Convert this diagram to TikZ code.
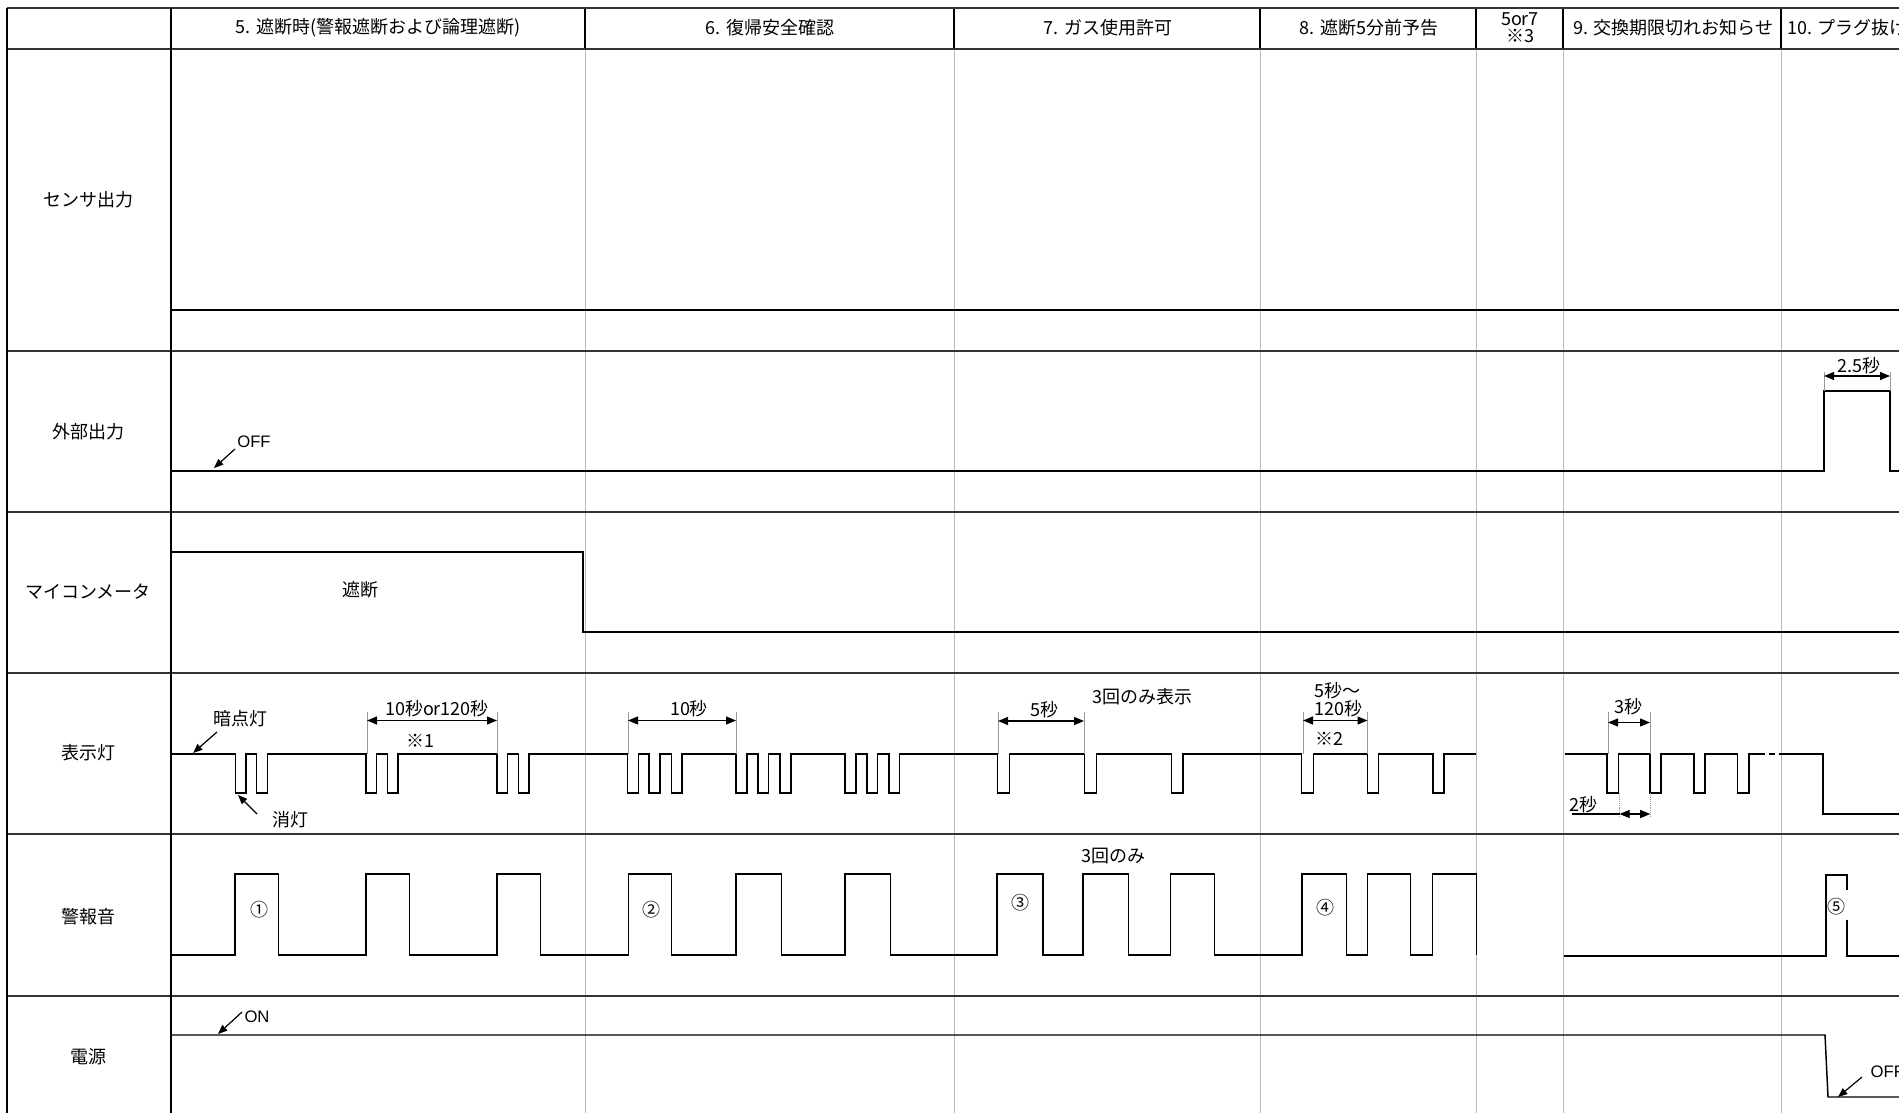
\documentclass[tikz,border=0pt]{standalone}
\usepackage{fontspec}
\setmainfont{Noto Sans CJK JP}
\newfontfamily\onofffont{Liberation Sans}
\usetikzlibrary{arrows.meta}

\tikzset{
  rowline/.style={line width=1.5pt, draw=black!80},
  colline/.style={line width=1pt, draw=black},
  gridline/.style={line width=0.6pt, draw=black!28},
  signal/.style={line width=1.1pt},
  extline/.style={line width=0.45pt, draw=black!40},
  dimarrow/.style={line width=0.9pt, {Triangle[length=7.5pt,width=6pt]}-{Triangle[length=7.5pt,width=6pt]}},
  callout/.style={line width=0.9pt, -{Triangle[length=7pt,width=5.5pt]}},
  lbl/.style={font=\fontsize{13.5}{15}\selectfont, inner sep=1pt},
  onoff/.style={font=\onofffont\fontsize{12.5}{14}\selectfont, inner sep=1pt},
}

\begin{document}
\begin{tikzpicture}[x=0.75pt, y=-0.75pt]
  \useasboundingbox (0,0) rectangle (1899,1113);
  \fill[white] (0,0) rectangle (1899,1113);

  % table grid
  \foreach \x in {585,954,1260,1476,1563,1781} {
    \draw[gridline] (\x,49) -- (\x,1113);
    \draw[colline] (\x,8) -- (\x,49);
  }
  \foreach \y in {8,49,351,512,673,834,996}
    \draw[rowline] (7,\y) -- (1899,\y);
  \draw[colline] (7,8) -- (7,1113);
  \draw[colline] (171,8) -- (171,1113);

  % header
  \node[lbl] (hdBlock) at (378,28) {5. 遮断時(警報遮断および論理遮断)};
  \node[lbl] (hdReturn) at (770,28) {6. 復帰安全確認};
  \node[lbl] (hdPermit) at (1108,28) {7. ガス使用許可};
  \node[lbl] (hdNotice) at (1369,28) {8. 遮断5分前予告};
  \node[lbl, align=center, font=\fontsize{13.5}{12.5}\selectfont] (hdAlt) at (1520,28) {5or7\\※3};
  \node[lbl] (hdExpire) at (1673,28) {9. 交換期限切れお知らせ};
  \node[lbl, anchor=west] (hdPlug) at (1786,28) {10. プラグ抜け};

  % row titles
  \node[lbl] (rowSensor) at (88,200) {センサ出力};
  \node[lbl] (rowExt) at (88,432) {外部出力};
  \node[lbl] (rowMeter) at (88,592) {マイコンメータ};
  \node[lbl] (rowLamp) at (88,753) {表示灯};
  \node[lbl] (rowBuzz) at (88,917) {警報音};
  \node[lbl] (rowPower) at (88,1057) {電源};

  % sensor output
  \draw[signal] (171,310) -- (1899,310);

  % external output
  \draw[signal] (171,471) -- (1824,471) -- (1824,391) -- (1890,391) -- (1890,471) -- (1899,471);
  \draw[extline] (1824,372) -- (1824,391);
  \draw[extline] (1890,372) -- (1890,391);
  \coordinate (extL) at (1824,376);
  \coordinate (extR) at (1890,376);
  \draw[dimarrow] (extL) -- (extR);
  \node[lbl] (extTime) at (1859,366) {2.5秒};
  \node[onoff] (extOff) at (254,442) {OFF};
  \coordinate (extOffTip) at (214,468);
  \draw[callout] ([shift={(-19,7)}]extOff.center) -- (extOffTip);

  % micom meter
  \draw[signal] (171,552) -- (583,552) -- (583,632) -- (1899,632);
  \node[lbl] (meterCut) at (360,590) {遮断};

  % lamp
  \draw[signal] (171,754)
    \foreach \x/\w in {235.3/10.7, 256.7/10.7, 366/10.5, 387.5/10.7, 496.9/10.7, 518.3/10.7,
                       627.7/10.7, 649.1/10.7, 671.4/10.7, 736.2/11, 758/10.7, 779.9/11,
                       845/11, 867/10.7, 888.8/10.7, 997.3/12, 1084.3/12, 1171.4/11.6,
                       1301.7/11.6, 1367.5/11.2, 1433/11.1}
      { -- (\x,754) -- (\x,793) -- (\x+\w,793) -- (\x+\w,754) }
    -- (1476,754);
  \draw[signal] (1564.6,754)
    \foreach \x/\w in {1606.8/11.6, 1650.2/10.8, 1694.1/10.8, 1737.6/11.2}
      { -- (\x,754) -- (\x,793) -- (\x+\w,793) -- (\x+\w,754) }
    -- (1760,754);
  \draw[signal, dash pattern=on 4pt off 3pt] (1760,754) -- (1782,754);
  \draw[signal] (1782,754) -- (1823,754) -- (1823,814) -- (1899,814);

  \node[lbl] (lampDark) at (240,719) {暗点灯};
  \coordinate (lampDarkTip) at (193,753);
  \draw[callout] ([shift={(-23,13)}]lampDark.center) -- (lampDarkTip);
  \node[lbl] (lampOff) at (290,820) {消灯};
  \coordinate (lampOffTip) at (238,795);
  \draw[callout] ([shift={(-33,-6)}]lampOff.center) -- (lampOffTip);

  % lamp dimensions
  \foreach \x in {367,497,628,736,998,1084,1303,1367.5,1608,1650}
    \draw[extline] (\x,712) -- (\x,754);
  \coordinate (dimA1) at (367,720.5);  \coordinate (dimA2) at (497,720.5);
  \coordinate (dimB1) at (628,720.5);  \coordinate (dimB2) at (736,720.5);
  \coordinate (dimC1) at (998,721);    \coordinate (dimC2) at (1084,721);
  \coordinate (dimD1) at (1303,720.5); \coordinate (dimD2) at (1367.5,720.5);
  \coordinate (dimE1) at (1608,722.5); \coordinate (dimE2) at (1650,722.5);
  \draw[dimarrow] (dimA1) -- (dimA2);
  \draw[dimarrow] (dimB1) -- (dimB2);
  \draw[dimarrow] (dimC1) -- (dimC2);
  \draw[dimarrow] (dimD1) -- (dimD2);
  \draw[dimarrow] (dimE1) -- (dimE2);
  \node[lbl] (lampSpanA) at (437,709) {10秒or120秒};
  \node[lbl] (lampNoteA) at (420,741) {※1};
  \node[lbl] (lampSpanB) at (689,709) {10秒};
  \node[lbl] (lampSpanC) at (1044,710) {5秒};
  \node[lbl] (lampThree) at (1142,697) {3回のみ表示};
  \node[lbl] (lampSpanD1) at (1337,691) {5秒～};
  \node[lbl] (lampSpanD2) at (1338,709) {120秒};
  \node[lbl] (lampNoteD) at (1329,739) {※2};
  \node[lbl] (lampSpanE) at (1628,707) {3秒};

  \draw[extline, densely dotted] (1619.6,793) -- (1619.6,818);
  \draw[extline, densely dotted] (1650.2,793) -- (1650.2,818);
  \node[lbl] (lampSpanF) at (1583,805) {2秒};
  \coordinate (dimF0) at (1572,814);
  \coordinate (dimF1) at (1619.6,814); \coordinate (dimF2) at (1650.2,814);
  \draw[line width=0.9pt] (dimF0) -- (dimF1);
  \draw[dimarrow] (dimF1) -- (dimF2);

  % buzzer
  \draw[signal] (171,955)
    \foreach \x/\w in {235.1/43.6, 366/43.6, 496.8/43.7, 628.3/43, 736.2/45.4, 845.2/45.5,
                       997.2/46, 1083.1/45.4, 1170.3/44.2, 1302.2/44.2, 1367.6/43, 1432.3/44.2}
      { -- (\x,955) -- (\x,874) -- (\x+\w,874) -- (\x+\w,955) };
  \draw[signal] (1564.3,956) -- (1826,956) -- (1826,875) -- (1847,875) -- (1847,890);
  \draw[signal] (1847,920) -- (1847,956) -- (1899,956);
  \node[lbl] (buzzOne) at (259,910) {①};
  \node[lbl] (buzzTwo) at (651,910) {②};
  \node[lbl] (buzzThree) at (1020,903) {③};
  \node[lbl] (buzzFour) at (1325,908) {④};
  \node[lbl] (buzzFive) at (1836,907) {⑤};
  \node[lbl] (buzzOnly) at (1113,856) {3回のみ};

  % power
  \draw[signal] (171,1035) -- (1825,1035) -- (1828,1097) -- (1899,1097);
  \node[onoff] (powOn) at (257,1017) {ON};
  \coordinate (powOnTip) at (218,1034);
  \draw[callout] ([shift={(-15,-5)}]powOn.center) -- (powOnTip);
  \node[onoff, anchor=west] (powOff) at (1869,1072) {OFF};
  \coordinate (powOffTip) at (1838,1097);
  \draw[callout] ([shift={(-7,5)}]powOff.west) -- (powOffTip);
\end{tikzpicture}
\end{document}
